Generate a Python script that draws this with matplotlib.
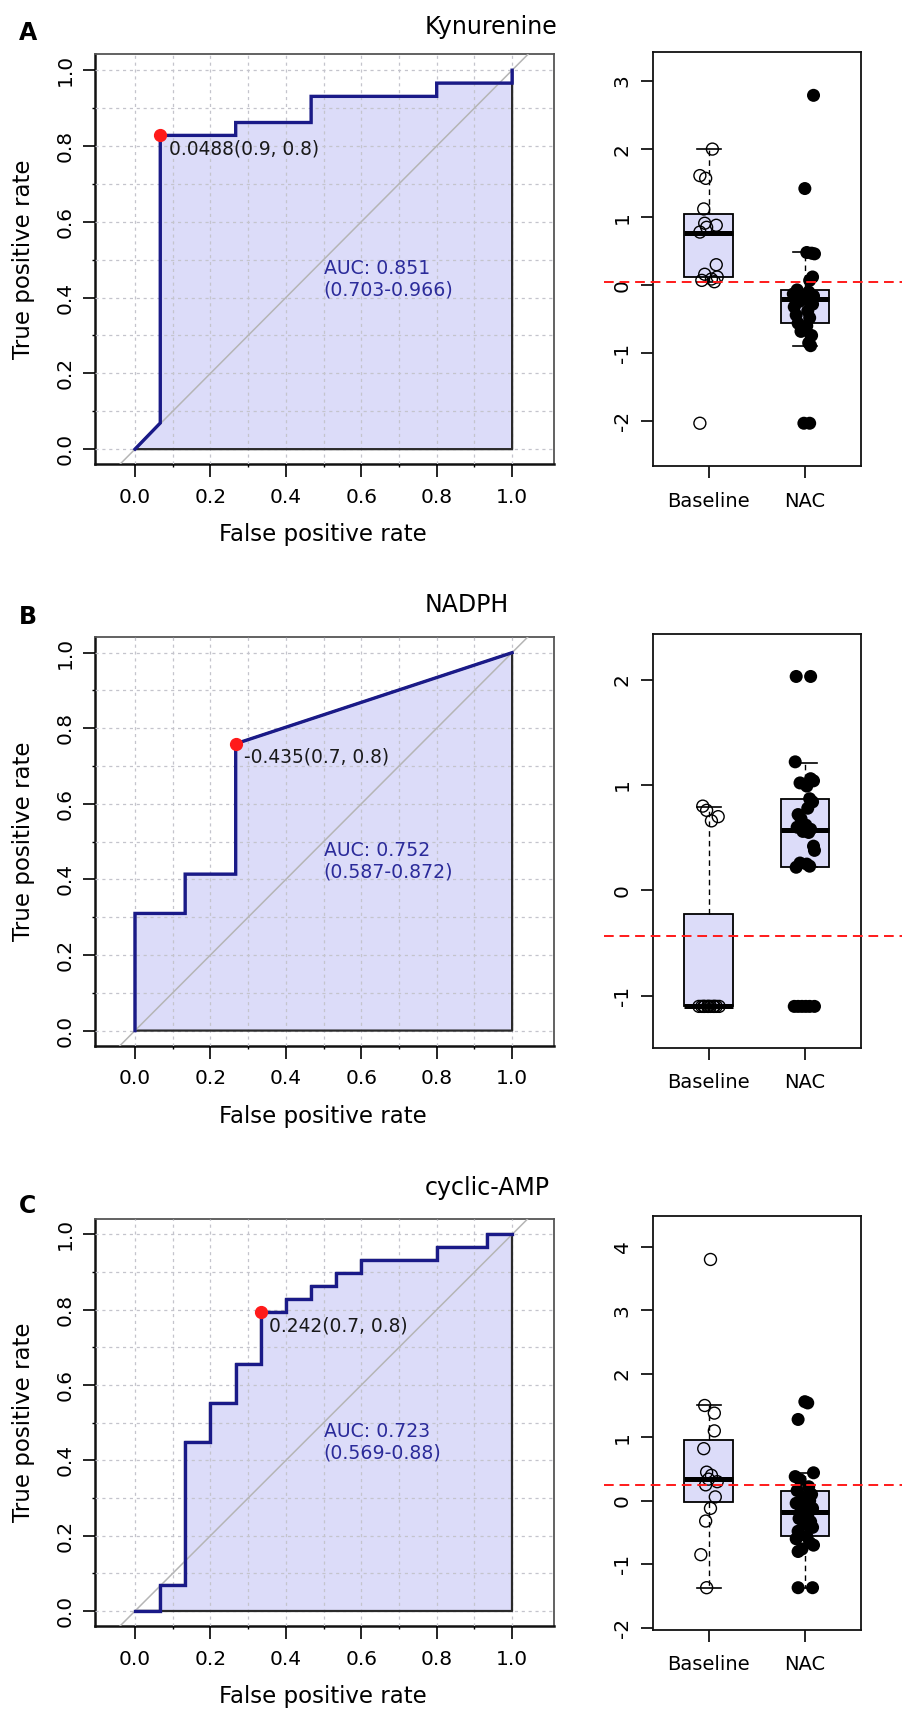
"""
ROC curves and Baseline-vs-NAC boxplots for three metabolites (A-C)
Output : out.png
"""

import numpy as np
import matplotlib
matplotlib.use('Agg')
import matplotlib.pyplot as plt

plt.rcParams['font.family'] = ['DejaVu Sans']
plt.rcParams['axes.unicode_minus'] = False

# ── Colours ───────────────────────────────────────────────────
NAVY   = '#1a1a88'
FILL   = '#dcdcf9'
AUCCOL = '#2b2b9a'
GRID   = '#c4c4cc'
DIAG   = '#b5b5b5'
RED    = '#ff1a1a'

# ── Data: panel A (Kynurenine) ────────────────────────────────
fpr_a = [0, 0.067, 0.067, 0.267, 0.267, 0.467, 0.467, 0.8, 0.8, 1.0, 1.0]
tpr_a = [0, 0.069, 0.828, 0.828, 0.862, 0.862, 0.931, 0.931, 0.966, 0.966, 1.0]
best_a = 2
cut_a = 0.0488
auc_a = [0.851, 0.703, 0.966]

base_a = [2.00, 1.61, 1.57, 1.12, 0.91, 0.88, 0.85, 0.78, 0.30, 0.16, 0.12,
          0.09, 0.07, 0.05, -2.03]
jit_base_a = [0.04, -0.09, -0.03, -0.05, -0.04, 0.08, -0.02, -0.09, 0.08,
              -0.04, 0.09, 0.03, -0.07, 0.06, -0.09]
nac_a = [2.79, 1.42, 0.48, 0.47, 0.46, 0.12, 0.07, -0.07, -0.10, -0.13, -0.16,
         -0.18, -0.19, -0.20, -0.21, -0.24, -0.28, -0.32, -0.38, -0.44, -0.48,
         -0.56, -0.60, -0.68, -0.74, -0.85, -0.89, -2.03, -2.03]
jit_nac_a = [0.09, 0.00, 0.02, 0.07, 0.10, 0.08, 0.05, -0.08, 0.04, -0.12,
             0.09, -0.03, 0.06, -0.10, 0.01, -0.06, 0.08, -0.11, 0.03, -0.09,
             0.05, -0.07, 0.02, -0.04, 0.07, 0.04, 0.06, -0.01, 0.05]
# q1, median, q3, lower whisker, upper whisker
box_base_a = [0.12, 0.77, 1.04, 0.05, 2.00]
box_nac_a  = [-0.56, -0.205, -0.07, -0.89, 0.48]

# ── Data: panel B (NADPH) ─────────────────────────────────────
fpr_b = [0, 0, 0.133, 0.133, 0.267, 0.267, 1.0]
tpr_b = [0, 0.310, 0.310, 0.414, 0.414, 0.759, 1.0]
best_b = 5
cut_b = -0.435
auc_b = [0.752, 0.587, 0.872]

base_b = [0.80, 0.76, 0.70, 0.66, -1.10, -1.10, -1.10, -1.10, -1.10, -1.10,
          -1.10, -1.10, -1.10, -1.10, -1.10]
jit_base_b = [-0.06, -0.02, 0.10, 0.03, -0.10, -0.07, -0.04, -0.01, 0.02,
              0.05, 0.08, 0.11, -0.05, 0.00, 0.06]
nac_b = [2.03, 2.03, 1.22, 1.06, 1.04, 1.02, 0.99, 0.87, 0.84, 0.78, 0.72,
         0.68, 0.62, 0.60, 0.58, 0.56, 0.55, 0.42, 0.38, 0.26, 0.25, 0.23,
         0.22, -1.10, -1.10, -1.10, -1.10, -1.10, -1.10]
jit_nac_b = [-0.09, 0.06, -0.10, 0.06, 0.09, -0.05, 0.02, 0.05, 0.08, 0.03,
             -0.07, -0.04, 0.01, -0.08, 0.06, -0.02, 0.04, 0.09, 0.10, -0.05,
             0.02, 0.05, -0.09, -0.11, -0.07, -0.03, 0.01, 0.05, 0.10]
box_base_b = [-1.10, -1.10, -0.22, -1.10, 0.79]
box_nac_b  = [0.227, 0.576, 0.865, 0.22, 1.21]

# ── Data: panel C (cyclic-AMP) ────────────────────────────────
fpr_c = [0, 0.067, 0.067, 0.133, 0.133, 0.2, 0.2, 0.267, 0.267, 0.333, 0.333,
         0.4, 0.4, 0.467, 0.467, 0.533, 0.533, 0.6, 0.6, 0.8, 0.8, 0.933,
         0.933, 1.0]
tpr_c = [0, 0, 0.069, 0.069, 0.448, 0.448, 0.552, 0.552, 0.655, 0.655, 0.793,
         0.793, 0.828, 0.828, 0.862, 0.862, 0.897, 0.897, 0.931, 0.931, 0.966,
         0.966, 1.0, 1.0]
best_c = 10
cut_c = 0.242
auc_c = [0.723, 0.569, 0.88]

base_c = [3.80, 1.50, 1.38, 1.10, 0.82, 0.45, 0.40, 0.34, 0.30, 0.25, 0.06,
          -0.12, -0.32, -0.85, -1.37]
jit_base_c = [0.02, -0.04, 0.06, 0.06, -0.05, -0.02, 0.03, 0.00, 0.09, -0.03,
              0.07, 0.02, -0.03, -0.08, -0.02]
nac_c = [1.56, 1.54, 1.28, 0.44, 0.38, 0.33, 0.22, 0.16, 0.10, 0.05, 0.00,
         -0.04, -0.08, -0.12, -0.17, -0.22, -0.28, -0.33, -0.37, -0.42, -0.48,
         -0.56, -0.60, -0.66, -0.70, -0.76, -0.80, -1.37, -1.37]
jit_nac_c = [0.00, 0.03, -0.07, 0.09, -0.10, -0.05, 0.04, -0.08, 0.07, -0.02,
             0.05, -0.09, 0.01, 0.08, -0.04, 0.03, -0.06, 0.06, -0.01, 0.08,
             -0.07, 0.02, -0.09, 0.05, 0.09, -0.03, -0.07, -0.07, 0.08]
box_base_c = [-0.02, 0.344, 0.96, -1.37, 1.50]
box_nac_c  = [-0.56, -0.17, 0.158, -1.37, 0.44]

groups = ['Baseline', 'NAC']

# ── Figure / layout (pixel boxes) ─────────────────────────────
W, H = 903, 1712
fig = plt.figure(figsize=(W / 100, H / 100), dpi=100)
fig.patch.set_facecolor('white')


def px_axes(x0, y0, x1, y1):
    return fig.add_axes([x0 / W, 1 - y1 / H, (x1 - x0) / W, (y1 - y0) / H])


def draw_roc(ax, fpr, tpr, best, cut, auc):
    ax.set_xlim(-0.105, 1.110)
    ax.set_ylim(-0.04, 1.042)
    ticks = np.linspace(0, 1, 6)
    minor = np.linspace(0.1, 0.9, 5)
    ax.set_xticks(ticks)
    ax.set_yticks(ticks)
    ax.set_xticks(minor, minor=True)
    ax.set_yticks(minor, minor=True)
    ax.set_xticklabels([f'{t:.1f}' for t in ticks], fontsize=14.5)
    ax.set_yticklabels([f'{t:.1f}' for t in ticks], fontsize=14.5,
                       rotation=90, va='center')
    ax.tick_params(which='major', length=9, width=1.2)
    ax.tick_params(axis='x', which='major', pad=8)
    ax.tick_params(axis='y', which='major', pad=6)
    ax.tick_params(which='minor', length=2.5, width=1.0)
    ax.set_axisbelow(False)
    ax.grid(True, which='both', color=GRID, linestyle=(0, (2.5, 3)),
            linewidth=0.9)

    # area under the curve, then its outline above the grid
    ax.fill_between(fpr, 0, tpr, facecolor=FILL, edgecolor='none', zorder=1)
    ax.fill_between(fpr, 0, tpr, facecolor='none', edgecolor='#2a2a2a',
                    linewidth=1.6, zorder=2.6)
    ax.axline((0, 0), slope=1, color=DIAG, linewidth=1.1, zorder=2.7)
    ax.plot(fpr, tpr, color=NAVY, linewidth=2.4, zorder=3,
            solid_joinstyle='miter')
    bx, by = fpr[best], tpr[best]
    ax.plot(bx, by, 'o', color=RED, markersize=8.5, zorder=4)
    ax.text(bx + 0.022, by - 0.010, f'{cut:g}({1 - bx:.1f}, {by:.1f})',
            ha='left', va='top', fontsize=13.4, color='#1a1a1a', zorder=5)
    ax.text(0.5, 0.449, f'AUC: {auc[0]:g}\n({auc[1]:g}-{auc[2]:g})',
            ha='left', va='center', fontsize=13.6, color=AUCCOL,
            linespacing=1.15, zorder=5)

    for s in ax.spines.values():
        s.set_color('#555555')
        s.set_linewidth(1.3)
    for s in ('left', 'bottom'):
        ax.spines[s].set_color('#111111')
        ax.spines[s].set_linewidth(1.8)

    ax.text(0.497, -0.172, 'False positive rate', transform=ax.transAxes,
            ha='center', va='center', fontsize=16.5)
    ax.text(-0.158, 0.5, 'True positive rate', transform=ax.transAxes,
            ha='center', va='center', rotation=90, fontsize=16.5)


def box_stats(vals, label):
    q1, med, q3, lo, hi = vals
    return dict(label=label, q1=q1, med=med, q3=q3, whislo=lo, whishi=hi,
                fliers=[])


def draw_box(ax, base, jit_base, nac, jit_nac, sb, sn, cut, ylim, yticks):
    ax.bxp([box_stats(sb, groups[0]), box_stats(sn, groups[1])],
           positions=[1, 2], widths=0.5, capwidths=0.25, showfliers=False,
           patch_artist=True,
           boxprops=dict(facecolor=FILL, edgecolor='black', linewidth=1.3),
           medianprops=dict(color='black', linewidth=3.6,
                            solid_capstyle='butt'),
           whiskerprops=dict(color='black', linewidth=1.0,
                             linestyle=(0, (4, 3))),
           capprops=dict(color='black', linewidth=1.2))
    ax.scatter(1 + np.array(jit_base), base, s=74, facecolors='none',
               edgecolors='black', linewidths=1.0, zorder=4)
    ax.scatter(2 + np.array(jit_nac), nac, s=88, color='black',
               edgecolors='none', zorder=4)
    ax.axhline(cut, xmin=-0.234, xmax=1.3, color=RED, linewidth=1.4,
               linestyle=(0, (5, 3)), clip_on=False, zorder=5)
    ax.set_xlim(0.42, 2.58)
    ax.set_ylim(*ylim)
    ax.set_yticks(yticks)
    ax.set_yticklabels([str(t) for t in yticks], fontsize=14.5, rotation=90,
                       va='center')
    ax.set_xticks([1, 2])
    ax.set_xticklabels(groups, fontsize=14)
    ax.tick_params(axis='y', length=9, width=1.2, pad=6)
    ax.tick_params(axis='x', length=8.6, width=1.2, pad=10)
    for s in ax.spines.values():
        s.set_color('#111111')
        s.set_linewidth(1.3)


panels = [
    dict(letter='A', title='Kynurenine', letter_y=33, title_y=34,
         roc=(95.4, 54.3, 553.6, 464.3), box=(652.7, 51.8, 860.7, 466.1),
         fpr=fpr_a, tpr=tpr_a, best=best_a, cut=cut_a, auc=auc_a,
         base=base_a, jb=jit_base_a, nac=nac_a, jn=jit_nac_a,
         sb=box_base_a, sn=box_nac_a, ylim=(-2.66, 3.43),
         yticks=list(range(-2, 4))),
    dict(letter='B', title='NADPH', letter_y=617, title_y=612,
         roc=(95.4, 636.8, 553.6, 1045.7), box=(652.7, 634.3, 860.7, 1047.5),
         fpr=fpr_b, tpr=tpr_b, best=best_b, cut=cut_b, auc=auc_b,
         base=base_b, jb=jit_base_b, nac=nac_b, jn=jit_nac_b,
         sb=box_base_b, sn=box_nac_b, ylim=(-1.49, 2.43),
         yticks=list(range(-1, 3))),
    dict(letter='C', title='cyclic-AMP', letter_y=1206, title_y=1194.6,
         roc=(95.4, 1218.6, 553.6, 1626.1), box=(652.7, 1216.3, 860.7, 1629.6),
         fpr=fpr_c, tpr=tpr_c, best=best_c, cut=cut_c, auc=auc_c,
         base=base_c, jb=jit_base_c, nac=nac_c, jn=jit_nac_c,
         sb=box_base_c, sn=box_nac_c, ylim=(-2.03, 4.48),
         yticks=list(range(-2, 5))),
]

for p in panels:
    ax_roc = px_axes(*p['roc'])
    draw_roc(ax_roc, p['fpr'], p['tpr'], p['best'], p['cut'], p['auc'])
    ax_box = px_axes(*p['box'])
    draw_box(ax_box, p['base'], p['jb'], p['nac'], p['jn'], p['sb'], p['sn'],
             p['cut'], p['ylim'], p['yticks'])
    fig.text(27.7 / W, 1 - p['letter_y'] / H, p['letter'], ha='center',
             va='center', fontsize=17, fontweight='bold')
    fig.text(425 / W, 1 - p['title_y'] / H, p['title'], ha='left',
             va='baseline', fontsize=17)

fig.savefig('out.png', dpi=100, facecolor='white')
print("Saved -> out.png")
